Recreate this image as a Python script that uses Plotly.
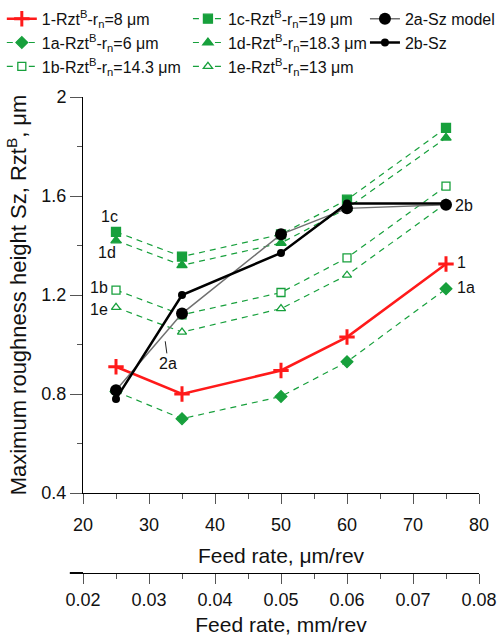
import plotly.graph_objects as go

# ---------------- data ----------------
feed = [25, 35, 50, 60, 75]  # feed rate, um/rev
rzt_1 = [0.91, 0.80, 0.895, 1.03, 1.325]
rzt_1a = [0.81, 0.70, 0.79, 0.93, 1.225]
rzt_1b = [1.22, 1.12, 1.21, 1.35, 1.64]
rzt_1c = [1.455, 1.355, 1.445, 1.585, 1.875]
rzt_1d = [1.42, 1.32, 1.41, 1.55, 1.835]
rzt_1e = [1.15, 1.05, 1.145, 1.28, 1.57]
sz_2a = [0.815, 1.125, 1.445, 1.55, 1.565]
sz_2b = [0.78, 1.20, 1.37, 1.57, 1.57]

names = {
    "1": "1-Rzt<sup>B</sup>-r<sub>n</sub>=8 μm",
    "1a": "1a-Rzt<sup>B</sup>-r<sub>n</sub>=6 μm",
    "1b": "1b-Rzt<sup>B</sup>-r<sub>n</sub>=14.3 μm",
    "1c": "1c-Rzt<sup>B</sup>-r<sub>n</sub>=19 μm",
    "1d": "1d-Rzt<sup>B</sup>-r<sub>n</sub>=18.3 μm",
    "1e": "1e-Rzt<sup>B</sup>-r<sub>n</sub>=13 μm",
    "2a": "2a-Sz model",
    "2b": "2b-Sz",
}

x_ticks_um = [20, 30, 40, 50, 60, 70, 80]
y_ticks = [0.4, 0.8, 1.2, 1.6, 2]

RED = "#ff1a1a"
GREEN = "#17a03c"
FONT = "Liberation Sans, Arial, sans-serif"

fig = go.Figure()

def green(y, name, symbol, size, legend, rank, open_=False):
    fig.add_trace(go.Scatter(
        x=feed, y=y, mode="lines+markers", name=name, legend=legend, legendrank=rank,
        line=dict(color=GREEN, width=1.2, dash="6px,5px"),
        marker=dict(symbol=symbol, size=size,
                    color="white" if open_ else GREEN,
                    line=dict(color=GREEN, width=1.3)),
    ))

green(rzt_1a, names["1a"], "diamond", 9, "legend", 2)
green(rzt_1b, names["1b"], "square", 8, "legend", 3, True)
green(rzt_1c, names["1c"], "square", 9, "legend2", 1)
green(rzt_1d, names["1d"], "triangle-up", 9, "legend2", 2)
green(rzt_1e, names["1e"], "triangle-up", 8, "legend2", 3, True)

fig.add_trace(go.Scatter(
    x=feed, y=rzt_1, mode="lines+markers", name=names["1"], legend="legend", legendrank=1,
    line=dict(color=RED, width=2.5),
    marker=dict(symbol="cross-thin", size=11, color=RED, line=dict(color=RED, width=3)),
))
fig.add_trace(go.Scatter(
    x=feed, y=sz_2a, mode="lines+markers", name=names["2a"], legend="legend3", legendrank=1,
    line=dict(color="#707070", width=1.5),
    marker=dict(symbol="circle", size=12, color="black"),
))
fig.add_trace(go.Scatter(
    x=feed, y=sz_2b, mode="lines+markers", name=names["2b"], legend="legend3", legendrank=2,
    line=dict(color="black", width=2.5),
    marker=dict(symbol="circle", size=8, color="black"),
))
# secondary axis carrier (feed in mm/rev)
fig.add_trace(go.Scatter(
    x=[f / 1000 for f in feed], y=[None] * len(feed), xaxis="x2",
    showlegend=False, hoverinfo="skip", mode="markers",
))

# vertical guide lines at the measured feeds
for f in feed:
    fig.add_vline(x=f, line_color="#ababab", line_width=1, layer="below")

ann_font = dict(family=FONT, size=16, color="#111")
labels = [
    ("1c", feed[0], rzt_1c[0], 4, 15, "right"),
    ("1d", feed[0], rzt_1d[0], 2, -12, "right"),
    ("1b", feed[0], rzt_1b[0], -6, 3, "right"),
    ("1e", feed[0], rzt_1e[0], -6, -2, "right"),
    ("2b", feed[-1], sz_2b[-1], 7, -2, "left"),
    ("1", feed[-1], rzt_1[-1], 9, 2, "left"),
    ("1a", feed[-1], rzt_1a[-1], 9, 1, "left"),
]
annotations = []
for t, x, y, dx, dy, anc in labels:
    annotations.append(dict(x=x, y=y, text=t, showarrow=False, xanchor=anc,
                            xshift=dx, yshift=dy, font=ann_font))
annotations.append(dict(x=32.3, y=1.045, text="2a", showarrow=True, arrowhead=0,
                        arrowwidth=1, arrowcolor="#222", ax=4, ay=30, standoff=8,
                        font=ann_font))

axis_common = dict(
    showline=True, linecolor="black", linewidth=1, showgrid=False, zeroline=False,
    ticks="outside", tickcolor="#555", tickwidth=1, automargin=False,
    tickfont=dict(family=FONT, size=18, color="#111"),
)

fig.update_layout(
    width=501, height=640,
    margin=dict(l=83, r=22, t=97, b=67, autoexpand=False),
    plot_bgcolor="white", paper_bgcolor="white",
    font=dict(family=FONT, color="#111"),
    xaxis=dict(
        **axis_common, range=[20, 80], tickvals=x_ticks_um, ticklen=10,
        ticklabelstandoff=5,
        minor=dict(dtick=5, tick0=20, ticks="outside", ticklen=5, tickcolor="#555"),
        anchor="y",
        title=dict(text="Feed rate, μm/rev", font=dict(family=FONT, size=21, color="#111"), standoff=14),
    ),
    xaxis2=dict(
        **axis_common, range=[0.02, 0.08], tick0=0.02, dtick=0.01, ticklen=10,
        minor=dict(dtick=0.005, ticks="outside", ticklen=5, tickcolor="#555"),
        overlaying="x", anchor="free", position=0, side="bottom",
        title=dict(text="Feed rate, mm/rev", font=dict(family=FONT, size=21, color="#111"), standoff=8),
    ),
    yaxis=dict(
        **axis_common, range=[0.4, 2], tickvals=y_ticks, ticklen=12,
        minor=dict(dtick=0.2, tick0=0.4, ticks="outside", ticklen=5, tickcolor="#555"),
        domain=[80 / 476, 1],
        title=dict(text="Maximum roughness height Sz, Rzt<sup>B</sup>, μm",
                   font=dict(family=FONT, size=22, color="#111"), standoff=8),
    ),
    legend=dict(x=-0.205, y=1.2, xanchor="left", yanchor="top",
                font=dict(family=FONT, size=16, color="#111"), bgcolor="rgba(0,0,0,0)",
                traceorder="normal"),
    legend2=dict(x=0.265, y=1.2, xanchor="left", yanchor="top",
                 font=dict(family=FONT, size=16, color="#111"), bgcolor="rgba(0,0,0,0)"),
    legend3=dict(x=0.712, y=1.2, xanchor="left", yanchor="top",
                 font=dict(family=FONT, size=16, color="#111"), bgcolor="rgba(0,0,0,0)"),
    shapes=[dict(type="line", xref="paper", yref="paper", x0=-0.033, x1=0, y0=0, y1=0,
                 line=dict(color="black", width=1))],
    annotations=annotations,
    showlegend=True,
)

fig.write_html("out.html", config={"displayModeBar": False},
               post_script="document.body.style.margin='0';document.body.style.overflow='hidden';")
